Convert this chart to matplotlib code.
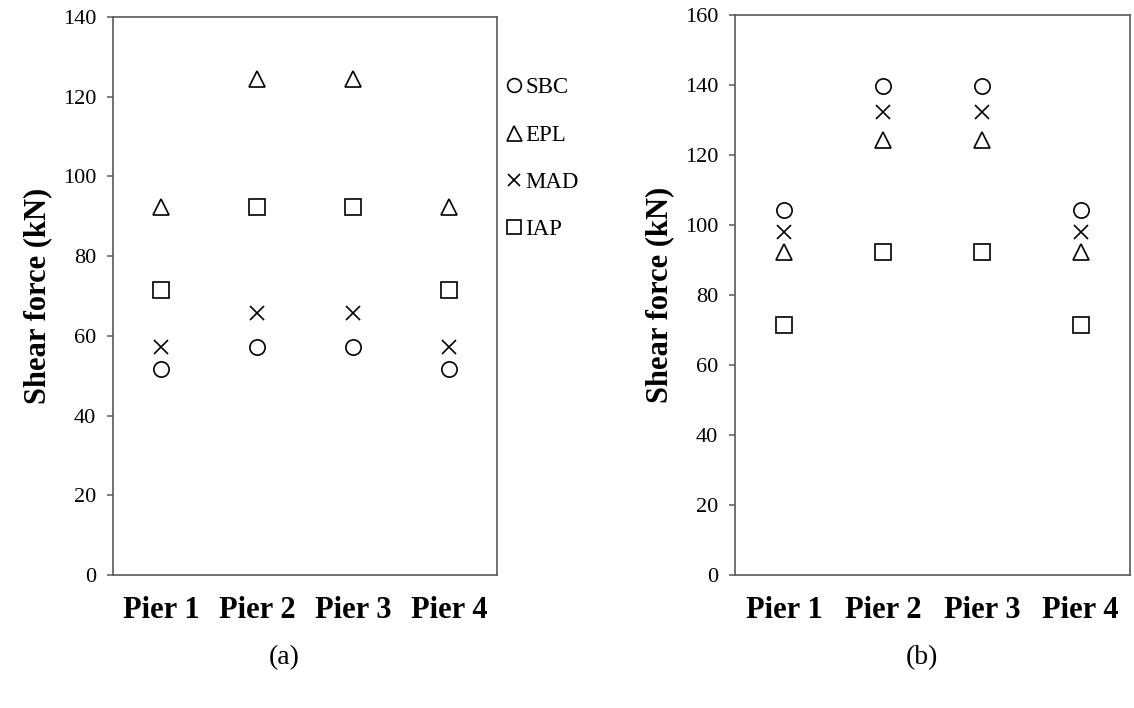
import matplotlib
matplotlib.use("Agg")
import matplotlib.pyplot as plt
from matplotlib.lines import Line2D

plt.rcParams['font.family'] = ['Liberation Serif', 'DejaVu Serif']

piers = ["Pier 1", "Pier 2", "Pier 3", "Pier 4"]
series = ["SBC", "EPL", "MAD", "IAP"]

# (a) shear force per pier, kN
sbc_a = [51.8, 57.3, 57.3, 51.8]
epl_a = [92.3, 124.4, 124.4, 92.3]
mad_a = [57.2, 65.7, 65.7, 57.2]
iap_a = [71.4, 92.3, 92.3, 71.4]

# (b) shear force per pier, kN
sbc_b = [104.2, 139.7, 139.7, 104.2]
epl_b = [92.3, 124.4, 124.4, 92.3]
mad_b = [98.0, 132.3, 132.3, 98.0]
iap_b = [71.4, 92.3, 92.3, 71.4]

yticks_a = [0, 20, 40, 60, 80, 100, 120, 140]
yticks_b = [0, 20, 40, 60, 80, 100, 120, 140, 160]

styles = {
    "SBC": dict(marker="o", markersize=11),
    "EPL": dict(marker="^", markersize=12),
    "MAD": dict(marker="x", markersize=10),
    "IAP": dict(marker="s", markersize=11),
}

W, H = 1134, 708
fig = plt.figure(figsize=(W / 100, H / 100), dpi=100)

spine_col = "#595959"


def px_axes(x0, y0, x1, y1):
    return fig.add_axes([x0 / W, 1 - y1 / H, (x1 - x0) / W, (y1 - y0) / H])


def draw(ax, data, yticks):
    xs = list(range(1, len(piers) + 1))
    for name, vals in zip(series, data):
        ax.plot(xs, vals, linestyle="none", color="black",
                markerfacecolor="none", markeredgecolor="black",
                markeredgewidth=1.2, clip_on=False, label=name,
                **styles[name])
    ax.set_xlim(0.5, len(piers) + 0.5)
    ax.set_ylim(yticks[0], yticks[-1])
    ax.set_yticks(yticks)
    ax.set_xticks(xs)
    ax.set_xticklabels(piers, fontsize=22, fontweight="bold")
    ax.tick_params(axis="x", length=0, pad=15)
    ax.tick_params(axis="y", direction="out", length=4, width=1.1,
                   color=spine_col, labelsize=16, pad=8)
    for sp in ax.spines.values():
        sp.set_color(spine_col)
        sp.set_linewidth(1.2)
    ax.set_ylabel("Shear force (kN)", fontsize=22, fontweight="bold",
                  labelpad=8)


ax_a = px_axes(113, 17, 497, 575)
draw(ax_a, [sbc_a, epl_a, mad_a, iap_a], yticks_a)

ax_b = px_axes(735, 15, 1130, 575)
draw(ax_b, [sbc_b, epl_b, mad_b, iap_b], yticks_b)

handles = [Line2D([], [], linestyle="none", color="black",
                  markerfacecolor="none", markeredgewidth=1.2,
                  **dict(styles[n], markersize=styles[n]["markersize"] * 0.9))
           for n in series]
fig.legend(handles, series, loc="upper left",
           bbox_to_anchor=(497 / W, 1 - 68 / H),
           frameon=False, fontsize=16.5, handlelength=0.7,
           handletextpad=0.15, labelspacing=1.15, borderaxespad=0)

fig.text(284 / W, 1 - 658 / H, "(a)", fontsize=20, ha="center", va="center")
fig.text(922 / W, 1 - 658 / H, "(b)", fontsize=20, ha="center", va="center")

fig.savefig("out.png", dpi=100, facecolor="white")
